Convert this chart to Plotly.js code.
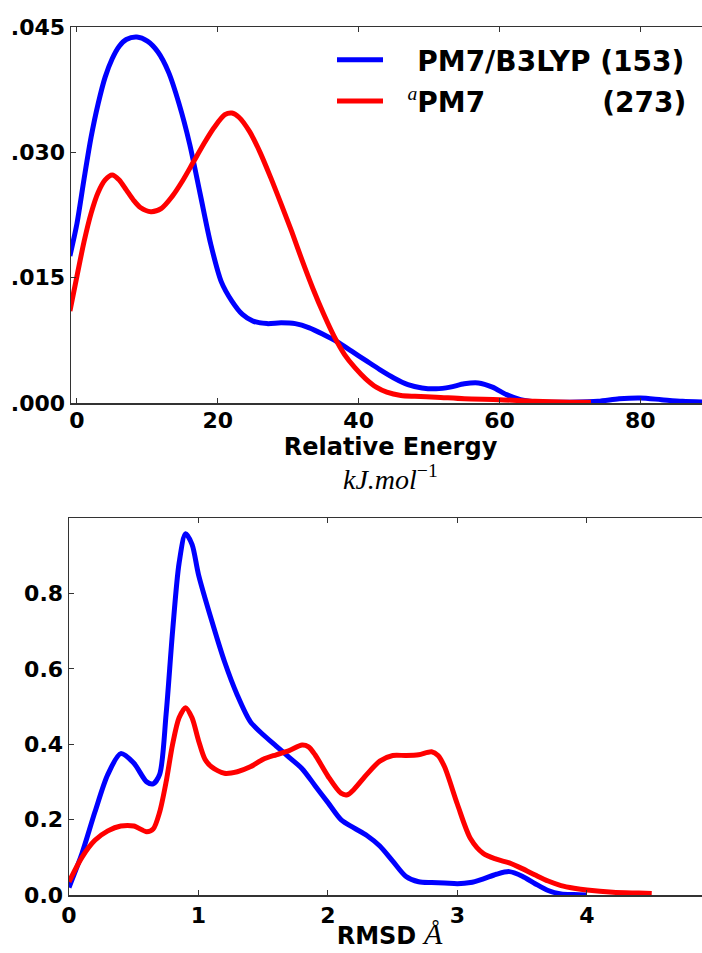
<!DOCTYPE html>
<html>
<head>
<meta charset="utf-8">
<script src="https://cdn.plot.ly/plotly-3.0.1.min.js"></script>
<style>
html,body{margin:0;padding:0;overflow:hidden;background:#fff;}
#chart{width:710px;height:953px;}
</style>
</head>
<body>
<div id="chart"></div>
<script>
// ---- Top panel: relative energy distribution ----
const energyX_B3LYP = [-1,0,1,2,3,4,5,6,7,8.5,10,11.5,13,14.5,16,17.5,19,20.5,22,23.5,25,27,29,31,33,35,37,39,41,43,45,47,49,51,53,55,57,59,61,63,66,70,74,77,80,83,86,90];
const energyY_B3LYP = [0.0176,0.0215,0.0268,0.0318,0.0358,0.0390,0.0412,0.0427,0.0435,0.0438,0.0433,0.0420,0.0396,0.0358,0.0310,0.0250,0.0190,0.0145,0.0122,0.0106,0.0098,0.0095,0.0096,0.0095,0.0090,0.0082,0.0073,0.0062,0.0051,0.0040,0.0030,0.0022,0.0018,0.0017,0.0019,0.0023,0.0024,0.0019,0.0010,0.0004,0.0001,0.0001,0.0002,0.0005,0.0006,0.0004,0.0002,0.0001];
const energyX_PM7 = [-1,0,1,2,3,4,5,6,7,8,9,10.5,12,13.5,15,16.5,18,19.5,21,22,23,24.5,26,27.5,29,30.5,32,33.5,35,36.5,38,39.5,41,42.5,44,46,48,51,55,60,65,70,73];
const energyY_PM7 = [0.0110,0.0152,0.0193,0.0227,0.0252,0.0267,0.0273,0.0267,0.0255,0.0243,0.0234,0.0229,0.0233,0.0247,0.0266,0.0288,0.0310,0.0330,0.0345,0.0347,0.0342,0.0325,0.0300,0.0270,0.0238,0.0205,0.0170,0.0137,0.0107,0.0080,0.0058,0.0042,0.0029,0.0019,0.0013,0.0009,0.0008,0.0007,0.0005,0.0004,0.0002,0.0001,0.0001];

// ---- Bottom panel: RMSD distribution ----
const rmsdX_B3LYP = [0,0.1,0.2,0.3,0.4,0.5,0.6,0.65,0.7,0.75,0.8,0.85,0.9,0.95,1.0,1.1,1.2,1.3,1.4,1.5,1.6,1.7,1.8,1.9,2.0,2.1,2.2,2.3,2.4,2.5,2.6,2.7,2.8,2.9,3.0,3.1,3.2,3.3,3.4,3.5,3.6,3.7,3.8,3.9,4.0];
const rmsdY_B3LYP = [0.02,0.11,0.22,0.32,0.375,0.35,0.30,0.295,0.32,0.48,0.70,0.88,0.958,0.93,0.85,0.73,0.62,0.53,0.46,0.425,0.395,0.365,0.335,0.29,0.245,0.20,0.178,0.158,0.13,0.09,0.05,0.035,0.033,0.032,0.030,0.033,0.043,0.055,0.062,0.050,0.030,0.012,0.003,0.001,0.0];
const rmsdX_PM7 = [0,0.1,0.2,0.3,0.4,0.5,0.6,0.65,0.7,0.75,0.8,0.85,0.9,0.95,1.0,1.05,1.1,1.2,1.3,1.4,1.5,1.6,1.7,1.8,1.85,1.9,2.0,2.1,2.15,2.2,2.3,2.4,2.5,2.6,2.7,2.8,2.85,2.9,3.0,3.1,3.2,3.3,3.4,3.5,3.6,3.7,3.8,3.9,4.0,4.2,4.4,4.5];
const rmsdY_PM7 = [0.035,0.10,0.145,0.17,0.183,0.183,0.168,0.175,0.22,0.30,0.40,0.47,0.497,0.47,0.41,0.36,0.34,0.323,0.327,0.34,0.36,0.372,0.383,0.398,0.393,0.372,0.315,0.27,0.266,0.28,0.32,0.355,0.37,0.37,0.372,0.38,0.37,0.34,0.24,0.15,0.11,0.095,0.085,0.07,0.053,0.037,0.025,0.018,0.013,0.007,0.005,0.004];

const seriesNames = ["\u00a0\u00a0\u00a0PM7/B3LYP (153)", "\u00a0\u00a0<sup><i style='font-family:Liberation Serif;font-weight:normal'>a</i></sup>PM7" + "\u00a0".repeat(12) + "(273)"];
const seriesColors = ["#0000ff", "#ff0000"];

const energyTickVals = [0, 0.015, 0.030, 0.045];
const energyTickText = [".000", ".015", ".030", ".045"];
const energyXTicks = [0, 20, 40, 60, 80];
const rmsdYTicks = [0, 0.2, 0.4, 0.6, 0.8];
const rmsdYTickText = ["0.0", "0.2", "0.4", "0.6", "0.8"];
const rmsdXTicks = [0, 1, 2, 3, 4];

const W = 710, H = 953;
const tickFont = {family: "DejaVu Sans", size: 22, color: "#000", weight: "bold"};
const LW = 5;

const traces = [
  {x: energyX_B3LYP, y: energyY_B3LYP, xaxis: "x", yaxis: "y", name: seriesNames[0], mode: "lines", legendgroup: "g1",
   line: {color: seriesColors[0], width: LW, shape: "spline", smoothing: 0.8}, legendrank: 1},
  {x: energyX_PM7, y: energyY_PM7, xaxis: "x", yaxis: "y", name: seriesNames[1], mode: "lines", legendgroup: "g2",
   line: {color: seriesColors[1], width: LW, shape: "spline", smoothing: 0.8}, legendrank: 2},
  {x: rmsdX_B3LYP, y: rmsdY_B3LYP, xaxis: "x2", yaxis: "y2", name: seriesNames[0], mode: "lines", showlegend: false,
   line: {color: seriesColors[0], width: LW, shape: "spline", smoothing: 0.8}},
  {x: rmsdX_PM7, y: rmsdY_PM7, xaxis: "x2", yaxis: "y2", name: seriesNames[1], mode: "lines", showlegend: false,
   line: {color: seriesColors[1], width: LW, shape: "spline", smoothing: 0.8}}
];

const axisCommon = {
  showgrid: false, zeroline: false, showline: true, linecolor: "#333", linewidth: 1.5,
  mirror: "ticks", ticks: "inside", ticklen: 5, tickwidth: 1, tickcolor: "#333",
  tickfont: tickFont, fixedrange: true
};

const layout = {
  width: W, height: H,
  margin: {l: 0, r: 0, t: 0, b: 0},
  paper_bgcolor: "#fff", plot_bgcolor: "#fff",
  showlegend: true,
  legend: {
    x: 332 / W, y: 1 - 35 / H, xanchor: "left", yanchor: "top",
    bgcolor: "rgba(0,0,0,0)", borderwidth: 0,
    font: {family: "DejaVu Sans", size: 28, color: "#000", weight: "bold"},
    itemwidth: 46, tracegroupgap: 2
  },
  xaxis: Object.assign({}, axisCommon, {
    domain: [71 / W, 1], anchor: "y", range: [-0.85, 89.9],
    tickvals: energyXTicks, ticklabelstandoff: -3,
    title: {text: "<b>Relative Energy</b>", font: {family: "DejaVu Sans", size: 24, color: "#000"}, standoff: 0}
  }),
  yaxis: Object.assign({}, axisCommon, {
    domain: [1 - 403 / H, 1 - 27 / H], anchor: "x", range: [0, 0.045],
    tickvals: energyTickVals, ticktext: energyTickText
  }),
  xaxis2: Object.assign({}, axisCommon, {
    domain: [69 / W, 1], anchor: "y2", range: [0, 4.95],
    tickvals: rmsdXTicks,
    title: {text: "<b>RMSD</b> <span style='font-family:Liberation Serif;font-style:italic;font-weight:normal;font-size:30px'>Å</span>", font: {family: "DejaVu Sans", size: 24, color: "#000"}, standoff: 0}
  }),
  yaxis2: Object.assign({}, axisCommon, {
    domain: [1 - 895 / H, 1 - 518 / H], anchor: "x2", range: [0, 1.0],
    tickvals: rmsdYTicks, ticktext: rmsdYTickText
  }),
  annotations: [{
    xref: "x domain", yref: "paper", x: 0.5, y: 1 - 477 / H, xanchor: "center", yanchor: "middle",
    showarrow: false, text: "<i>kJ.mol</i><sup>−1</sup>",
    font: {family: "Liberation Serif", size: 28, color: "#000"}
  }]
};

Plotly.newPlot("chart", traces, layout, {displayModeBar: false, staticPlot: true});
</script>
</body>
</html>
